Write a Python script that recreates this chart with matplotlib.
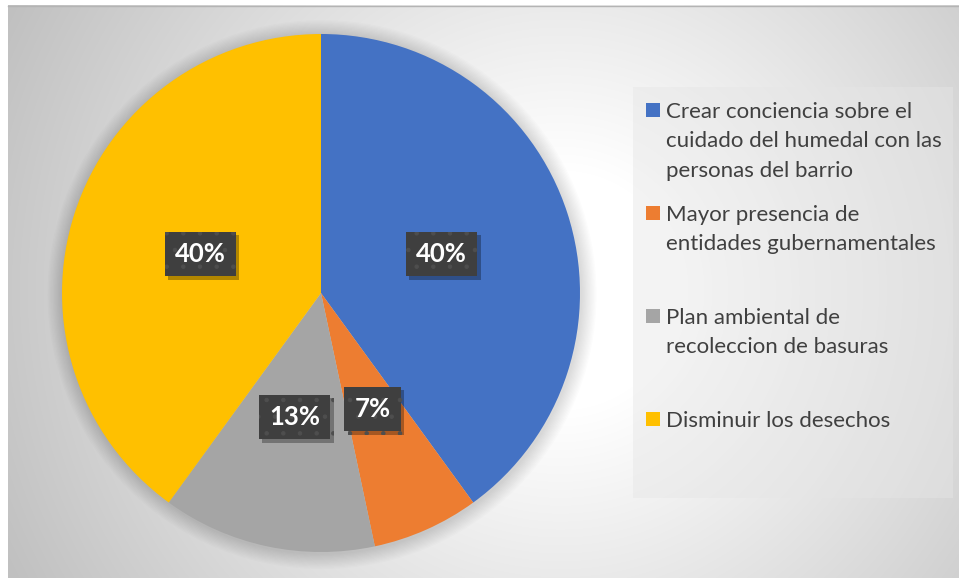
import matplotlib
matplotlib.use("Agg")
import matplotlib.pyplot as plt
import matplotlib.patheffects as pe
from matplotlib.patches import Circle, Rectangle
import numpy as np

# survey answers (counts out of 15 -> 40 %, 7 %, 13 %, 40 %)
categories = [
    "Crear conciencia sobre el\ncuidado del humedal con las\npersonas del barrio",
    "Mayor presencia de\nentidades gubernamentales",
    "Plan ambiental de\nrecoleccion de basuras",
    "Disminuir los desechos",
]
counts = [6, 1, 2, 6]
colors = ["#4472C4", "#ED7D31", "#A5A5A5", "#FFC000"]

W, H = 959, 578
plt.rcParams['font.family'] = ['Lato', 'DejaVu Sans']
plt.rcParams['hatch.linewidth'] = 0.8

fig = plt.figure(figsize=(W / 100, H / 100), dpi=100)
fig.patch.set_facecolor("white")

# background with radial grey gradient (pixel coordinates)
bg = fig.add_axes([0, 0, 1, 1], zorder=-2)
bg.set_xlim(0, W)
bg.set_ylim(H, 0)
bg.axis("off")
xx, yy = np.meshgrid(np.arange(8, W), np.arange(5, H))
dist = np.hypot(xx - 560, yy - 290)
shade = 255 - 63 * np.clip((dist - 120) / 500, 0, 1)
img = np.dstack([shade, shade, shade]) / 255.0
bg.imshow(img, extent=(8, W, H, 5), aspect="auto", interpolation="bilinear")
bg.plot([8, W], [5.5, 5.5], color="#b4b4b4", lw=1)

# pie axes: centre (321, 293) px, radius 259 px
cx, cy, r = 321, 293, 259
half = r * 1.1
ax = fig.add_axes([(cx - half) / W, (H - cy - half) / H, 2 * half / W, 2 * half / H])
ax.set_xlim(-1.1, 1.1)
ax.set_ylim(-1.1, 1.1)
ax.set_frame_on(False)

# soft shadow round the pie
for i in range(1, 13):
    ax.add_patch(Circle((0.004, -0.006), 1 + 0.005 * i, color="black",
                        alpha=0.012, lw=0, zorder=0))

wedges, texts, autotexts = ax.pie(
    counts, colors=colors, startangle=90, counterclock=False,
    autopct="%.0f%%", pctdistance=0.49, radius=1,
    wedgeprops=dict(linewidth=0),
    textprops=dict(color="white", fontsize=18.5, fontweight="bold"),
)
ax.set_xlim(-1.1, 1.1)
ax.set_ylim(-1.1, 1.1)

for t in autotexts:
    t.set_bbox(dict(boxstyle="square,pad=0.4", fc="#3f3f3f", ec="#4e4e4e",
                    lw=0, hatch="."))
    t.get_bbox_patch().set_path_effects([
        pe.withSimplePatchShadow(offset=(2.5, -2.5), shadow_rgbFace="black", alpha=0.3),
    ])
    t.set_zorder(5)

# legend panel
def px(x, y):
    return x / W, 1 - y / H

lx0, ly0, lx1, ly1 = 633, 87, 953, 498
fig.patches.append(Rectangle(px(lx0, ly1), (lx1 - lx0) / W, (ly1 - ly0) / H,
                             transform=fig.transFigure, fc="#e6e6e6", alpha=0.45,
                             ec="none", zorder=1))

first_base = 118
entry_step = 103
line_step = 29.3
for i, (lab, col) in enumerate(zip(categories, colors)):
    base = first_base + i * entry_step
    fig.patches.append(Rectangle(px(646, base - 1), 14 / W, 14 / H,
                                 transform=fig.transFigure, fc=col, ec="none", zorder=2))
    for j, line in enumerate(lab.split("\n")):
        x, y = px(666, base + j * line_step)
        fig.text(x, y, line, fontsize=16, color="#404040", va="baseline", ha="left", zorder=3)

fig.savefig("out.png", dpi=100)
